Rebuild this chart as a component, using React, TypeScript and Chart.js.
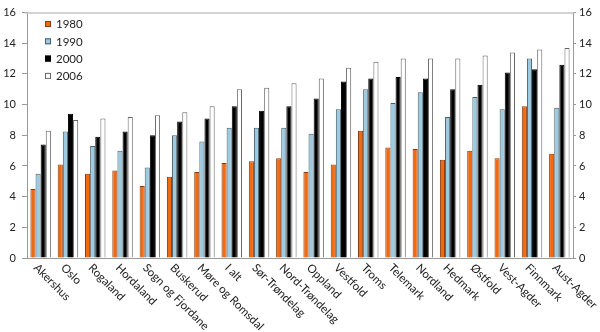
import React, { useEffect, useRef } from "react";
import { Chart, registerables } from "chart.js";

Chart.register(...registerables);

const categories = [
  "Akershus", "Oslo", "Rogaland", "Hordaland", "Sogn og Fjordane", "Buskerud",
  "Møre og Romsdal", "I alt", "Sør-Trøndelag", "Nord-Trøndelag", "Oppland",
  "Vestfold", "Troms", "Telemark", "Nordland", "Hedmark", "Østfold",
  "Vest-Agder", "Finnmark", "Aust-Agder",
];
const values1980 = [4.5, 6.1, 5.5, 5.7, 4.7, 5.3, 5.6, 6.2, 6.3, 6.5, 5.6, 6.1, 8.3, 7.2, 7.1, 6.4, 7.0, 6.5, 9.9, 6.8];
const values1990 = [5.5, 8.25, 7.3, 7.0, 5.9, 8.0, 7.6, 8.5, 8.5, 8.5, 8.1, 9.7, 11.0, 10.1, 10.8, 9.2, 10.5, 9.7, 13.0, 9.8];
const values2000 = [7.4, 9.4, 7.9, 8.25, 8.0, 8.9, 9.1, 9.9, 9.6, 9.9, 10.4, 11.5, 11.7, 11.8, 11.7, 11.0, 11.3, 12.1, 12.3, 12.6];
const values2006 = [8.3, 9.0, 9.1, 9.2, 9.3, 9.5, 9.9, 11.0, 11.1, 11.4, 11.7, 12.4, 12.8, 13.0, 13.0, 13.0, 13.2, 13.4, 13.6, 13.7];
const seriesLabels = ["1980", "1990", "2000", "2006"];
const yTicks = [0, 2, 4, 6, 8, 10, 12, 14, 16];

const FONT = "Lato, 'Open Sans', sans-serif";

const customPlugin = {
  id: "custom",
  afterDraw(chart: any) {
    const ctx = chart.ctx;
    const area = chart.chartArea;
    const x = chart.scales.x;
    ctx.save();
    // top border line
    ctx.strokeStyle = "#c4c4c4";
    ctx.lineWidth = 1.5;
    ctx.beginPath();
    ctx.moveTo(area.left - 2, area.top + 0.5);
    ctx.lineTo(area.right + 2, area.top + 0.5);
    ctx.stroke();
    // legend
    ctx.font = `11.5px ${FONT}`;
    ctx.textBaseline = "middle";
    ctx.textAlign = "left";
    chart.data.datasets.forEach((ds: any, i: number) => {
      const cy = 24.5 + i * 17.3;
      ctx.fillStyle = ds.backgroundColor;
      ctx.fillRect(45, cy - 3.5, 6, 6);
      ctx.strokeStyle = ds.borderColor;
      ctx.lineWidth = 1;
      ctx.strokeRect(45.5, cy - 3, 5, 5);
      ctx.fillStyle = "#222";
      ctx.fillText(ds.label, 56, cy);
    });
    // rotated category labels
    ctx.font = `11.5px ${FONT}`;
    ctx.fillStyle = "#222";
    chart.data.labels.forEach((lab: string, i: number) => {
      const px = x.getPixelForTick(i);
      ctx.save();
      ctx.translate(px - 5, area.bottom + 8);
      ctx.rotate(Math.PI / 4);
      ctx.textAlign = "left";
      ctx.textBaseline = "middle";
      ctx.fillText(lab, 0, 0);
      ctx.restore();
    });
    ctx.restore();
  },
};

export default function App() {
  const ref = useRef<HTMLCanvasElement>(null);
  useEffect(() => {
    document.body.style.margin = "0";
    const tickCb = (v: any) => (yTicks.includes(Number(v)) ? String(v) : "");
    const chart = new Chart(ref.current!, {
      type: "bar",
      data: {
        labels: categories,
        datasets: [
          { label: seriesLabels[0], data: values1980, backgroundColor: "#f26a10", borderColor: "#8a3a10", borderWidth: 1 },
          { label: seriesLabels[1], data: values1990, backgroundColor: "#9ccae0", borderColor: "#4a5f6a", borderWidth: 1 },
          { label: seriesLabels[2], data: values2000, backgroundColor: "#000000", borderColor: "#000000", borderWidth: 1 },
          { label: seriesLabels[3], data: values2006, backgroundColor: "#ffffff", borderColor: "#666666", borderWidth: 1 },
        ],
      },
      options: {
        responsive: false,
        animation: false,
        layout: { padding: { top: 6, left: 0, right: 0, bottom: 0 } },
        datasets: { bar: { categoryPercentage: 0.75, barPercentage: 1.0 } },
        plugins: { legend: { display: false }, tooltip: { enabled: false } },
        scales: {
          x: {
            ticks: { display: false },
            grid: { display: false },
            border: { display: true, color: "#9a9a9a", width: 1 },
            afterFit: (s: any) => { s.height = 74; },
          },
          y: {
            position: "left",
            min: 0, max: 16,
            ticks: { stepSize: 2, font: { family: FONT, size: 11 }, color: "#222", padding: 6, callback: tickCb },
            grid: { drawOnChartArea: false, tickLength: 5, color: "#9a9a9a" },
            border: { display: true, color: "#9a9a9a", width: 1 },
            afterFit: (s: any) => { s.width = 27; },
          },
          y2: {
            position: "right",
            min: 0, max: 16,
            ticks: { stepSize: 2, font: { family: FONT, size: 11 }, color: "#222", padding: 3, callback: tickCb },
            grid: { drawOnChartArea: false, tickLength: 3, color: "#9a9a9a" },
            border: { display: true, color: "#9a9a9a", width: 1 },
            afterFit: (s: any) => { s.width = 27; },
          },
        },
      },
      plugins: [customPlugin],
    });
    return () => chart.destroy();
  }, []);
  return (
    <div style={{ position: "fixed", left: 0, top: 0, width: 600, height: 332 }}>
      <canvas ref={ref} width={600} height={332} style={{ width: 600, height: 332 }} />
    </div>
  );
}
